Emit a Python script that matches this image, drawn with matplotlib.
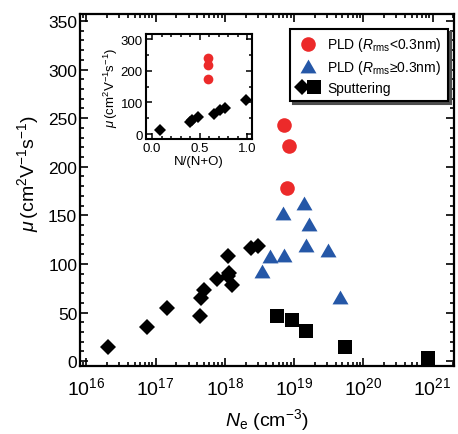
import matplotlib
matplotlib.use("Agg")
import matplotlib.pyplot as plt
from matplotlib.ticker import MultipleLocator, LogLocator, NullFormatter
from matplotlib.legend_handler import HandlerTuple

plt.rcParams['font.family'] = ['Liberation Sans', 'DejaVu Sans']
plt.rcParams['mathtext.fontset'] = 'custom'
plt.rcParams['mathtext.rm'] = 'Liberation Sans'
plt.rcParams['mathtext.it'] = 'Liberation Sans:italic'
plt.rcParams['mathtext.bf'] = 'Liberation Sans:bold'

# main panel data (log10 of Ne, mobility)
sput_d_logn = [16.32, 16.87, 17.17, 17.64, 17.65, 17.70, 17.89, 18.05, 18.06, 18.10, 18.04, 18.38, 18.48]
sput_d_mu = [14.7, 35.3, 54.6, 46.7, 64.5, 73.4, 84.4, 108.4, 91.0, 78.0, 88.0, 116.0, 118.7]
sput_s_logn = [18.76, 18.97, 19.18, 19.73, 20.94]
sput_s_mu = [46.0, 42.5, 30.5, 14.7, 3.0]
pld_lo_logn = [18.85, 18.93, 18.90]
pld_lo_mu = [243.3, 221.7, 177.8]
pld_hi_logn = [19.14, 18.84, 19.22, 19.18, 19.49, 18.86, 18.66, 18.54, 19.66]
pld_hi_mu = [162.6, 152.4, 141.0, 119.7, 114.6, 109.4, 107.8, 93.0, 65.5]

# inset data
ins_d_ratio = [0.08, 0.40, 0.42, 0.48, 0.65, 0.71, 0.77, 0.99]
ins_d_mu = [14, 38, 45, 54, 64, 75, 83, 106]
ins_c_ratio = [0.585, 0.585, 0.585]
ins_c_mu = [241, 219, 175]

red = '#ec2a2a'
blue = '#2557a7'
tri = [(-1, -0.866), (1, -0.866), (0, 0.866)]

fig = plt.figure(figsize=(4.58, 4.35), dpi=100)
ax = fig.add_axes([0.1747, 0.1563, 0.8166, 0.809])

ax.plot([10 ** v for v in sput_d_logn], sput_d_mu, 'D', color='black', ms=8.6, mew=0, zorder=3)
ax.plot([10 ** v for v in sput_s_logn], sput_s_mu, 's', color='black', ms=9.4, mew=0, zorder=3)
ax.plot([10 ** v for v in pld_hi_logn], pld_hi_mu, linestyle='none', marker=tri, color=blue, ms=11.5, mew=0, zorder=3)
ax.plot([10 ** v for v in pld_lo_logn], pld_lo_mu, 'o', color=red, ms=10.5, mew=0, zorder=3)

ax.set_xscale('log')
ax.set_xlim(10 ** 15.91, 10 ** 21.31)
ax.set_ylim(-5, 357)
ax.yaxis.set_major_locator(MultipleLocator(50))
ax.yaxis.set_minor_locator(MultipleLocator(10))
ax.xaxis.set_major_locator(LogLocator(base=10, numticks=20))
ax.xaxis.set_minor_locator(LogLocator(base=10, subs=range(2, 10), numticks=20))
ax.xaxis.set_minor_formatter(NullFormatter())

for s in ax.spines.values():
    s.set_linewidth(1.6)
ax.tick_params(which='both', direction='in', top=True, right=True, width=1.2)
ax.tick_params(which='major', length=6)
ax.tick_params(which='minor', length=3)
ax.tick_params(axis='y', pad=2, labelsize=12.5)
ax.tick_params(axis='x', pad=7, labelsize=14)

ax.set_xlabel(r'$N_\mathrm{e}$ (cm$^{-3}$)', fontsize=14, labelpad=6)
ax.set_ylabel(r'$\mu\,$(cm$^{2}$V$^{-1}$s$^{-1}$)', fontsize=14)
ax.yaxis.set_label_coords(-0.105, 0.55)

# legend
h_red = plt.Line2D([], [], linestyle='none', marker='o', color=red, ms=10.5, mew=0)
h_blue = plt.Line2D([], [], linestyle='none', marker=tri, color=blue, ms=11.5, mew=0)
h_d = plt.Line2D([], [], linestyle='none', marker='D', color='black', ms=8.6, mew=0)
h_s = plt.Line2D([], [], linestyle='none', marker='s', color='black', ms=9.4, mew=0)
leg = ax.legend([h_red, h_blue, (h_d, h_s)],
                [r'PLD ($R_{\mathrm{rms}}$<0.3nm)', r'PLD ($R_{\mathrm{rms}}$≥0.3nm)', 'Sputtering'],
                handler_map={tuple: HandlerTuple(ndivide=None, pad=0.1)},
                loc='upper right', bbox_to_anchor=(0.984, 0.957), borderaxespad=0,
                fontsize=10, fancybox=False, edgecolor='black', framealpha=1,
                shadow={'color': '0.3', 'alpha': 1}, handlelength=1.6, handletextpad=0.6,
                labelspacing=0.35, borderpad=0.45)
leg.get_frame().set_linewidth(1.5)

# inset
ins = fig.add_axes([0.3177, 0.678, 0.2325, 0.2414])
ins.plot(ins_d_ratio, ins_d_mu, 'D', color='black', ms=6.6, mew=0)
ins.plot(ins_c_ratio, ins_c_mu, 'o', color=red, ms=7, mew=0)
ins.set_xlim(-0.07, 1.05)
ins.set_ylim(-16, 316)
ins.xaxis.set_major_locator(MultipleLocator(0.5))
ins.xaxis.set_minor_locator(MultipleLocator(0.1))
ins.yaxis.set_major_locator(MultipleLocator(100))
ins.yaxis.set_minor_locator(MultipleLocator(50))
for s in ins.spines.values():
    s.set_linewidth(1.5)
ins.tick_params(which='both', direction='in', top=True, right=True, width=1.1)
ins.tick_params(which='major', length=4.5, labelsize=9.5, pad=2)
ins.tick_params(which='minor', length=2.5)
ins.set_xlabel('N/(N+O)', fontsize=9.5, labelpad=1)
ins.set_ylabel(r'$\mu\,$(cm$^{2}$V$^{-1}$s$^{-1}$)', fontsize=9.5, labelpad=0)

fig.savefig('out.png', dpi=100)
